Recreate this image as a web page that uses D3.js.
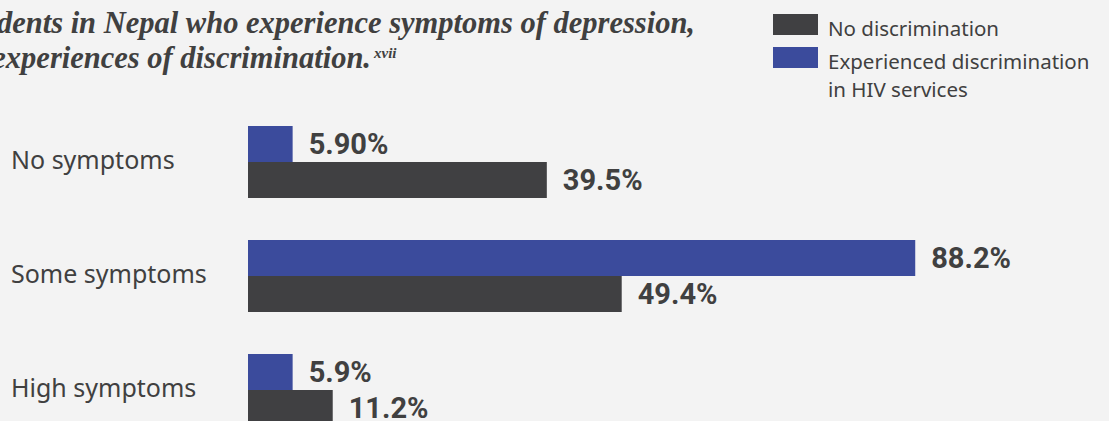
<!DOCTYPE html>
<html lang="en">
<head>
    <meta charset="UTF-8">
    <title>Depression symptoms by discrimination</title>
    <style>
        body {
            margin: 0;
            padding: 0;
            background-color: #f3f3f3;
        }
        svg {
            display: block;
        }
        .title {
            font-family: "Liberation Serif", serif;
            font-style: italic;
            font-weight: bold;
            fill: #404040;
        }
        .legend text {
            font-family: "Noto Sans", sans-serif;
            font-size: 20.5px;
            fill: #404040;
        }
        .cat {
            font-family: "Noto Sans", sans-serif;
            font-size: 25px;
            fill: #404040;
        }
        .value {
            font-family: Roboto, sans-serif;
            font-weight: bold;
            font-size: 29px;
            fill: #404040;
        }
    </style>
</head>
<body>
    <div id="chart"></div>

    <script src="https://d3js.org/d3.v7.min.js"></script>
    <script>
        // data
        const categories = ['No symptoms', 'Some symptoms', 'High symptoms'];
        const seriesNames = ['Experienced discrimination in HIV services', 'No discrimination'];
        const discriminated = [5.9, 88.2, 5.9];
        const noDiscrimination = [39.5, 49.4, 11.2];
        const discriminatedLabels = ['5.90%', '88.2%', '5.9%'];
        const noDiscriminationLabels = ['39.5%', '49.4%', '11.2%'];
        const colors = ['#3b4b9c', '#404042'];

        const width = 1109, height = 421;

        const svg = d3.select('#chart').append('svg')
            .attr('width', width)
            .attr('height', height);

        // title (left part runs off the canvas like the original crop)
        svg.append('text')
            .attr('class', 'title')
            .attr('x', 695)
            .attr('y', 33)
            .attr('text-anchor', 'end')
            .attr('font-size', 30.5)
            .text('Proportion of respondents in Nepal who experience symptoms of depression,');

        svg.append('text')
            .attr('class', 'title')
            .attr('x', 371)
            .attr('y', 68)
            .attr('text-anchor', 'end')
            .attr('font-size', 30.5)
            .text('by experiences of discrimination.');

        svg.append('text')
            .attr('class', 'title')
            .attr('x', 374)
            .attr('y', 58)
            .attr('font-size', 15)
            .attr('font-weight', 'normal')
            .text('xvii');

        // scales
        const x = d3.scaleLinear().domain([0, 100]).range([248, 1004.5]);

        const y = d3.scaleBand()
            .domain(categories)
            .range([105, 447])
            .paddingInner(42 / 114)
            .paddingOuter(21 / 114);

        const ySub = d3.scaleBand()
            .domain(seriesNames)
            .range([0, y.bandwidth()]);

        const rows = categories.map((c, i) => ({
            category: c,
            values: [
                { series: seriesNames[0], value: discriminated[i], label: discriminatedLabels[i], color: colors[0] },
                { series: seriesNames[1], value: noDiscrimination[i], label: noDiscriminationLabels[i], color: colors[1] }
            ]
        }));

        const group = svg.append('g')
            .selectAll('g')
            .data(rows)
            .enter()
            .append('g')
            .attr('transform', d => `translate(0,${y(d.category)})`);

        group.append('text')
            .attr('class', 'cat')
            .attr('x', 11)
            .attr('y', y.bandwidth() / 2)
            .attr('dy', '0.27em')
            .text(d => d.category);

        group.selectAll('rect')
            .data(d => d.values)
            .enter()
            .append('rect')
            .attr('x', x(0))
            .attr('y', d => ySub(d.series))
            .attr('width', d => x(d.value) - x(0))
            .attr('height', ySub.bandwidth())
            .attr('fill', d => d.color);

        group.selectAll('text.value')
            .data(d => d.values)
            .enter()
            .append('text')
            .attr('class', 'value')
            .attr('x', d => x(d.value) + 16)
            .attr('y', d => ySub(d.series) + ySub.bandwidth() / 2)
            .attr('dy', '0.36em')
            .text(d => d.label);

        // legend
        const legendItems = [
            { lines: ['No discrimination'], color: colors[1], y: 14 },
            { lines: ['Experienced discrimination', 'in HIV services'], color: colors[0], y: 47 }
        ];

        const legend = svg.append('g').attr('class', 'legend');

        const item = legend.selectAll('g')
            .data(legendItems)
            .enter()
            .append('g')
            .attr('transform', d => `translate(773,${d.y})`);

        item.append('rect')
            .attr('width', 45)
            .attr('height', 21)
            .attr('fill', d => d.color);

        item.append('text')
            .attr('x', 55)
            .attr('y', 22)
            .selectAll('tspan')
            .data(d => d.lines)
            .enter()
            .append('tspan')
            .attr('x', 55)
            .attr('dy', (d, i) => i === 0 ? 0 : 27.7)
            .text(d => d);
    </script>
</body>
</html>
